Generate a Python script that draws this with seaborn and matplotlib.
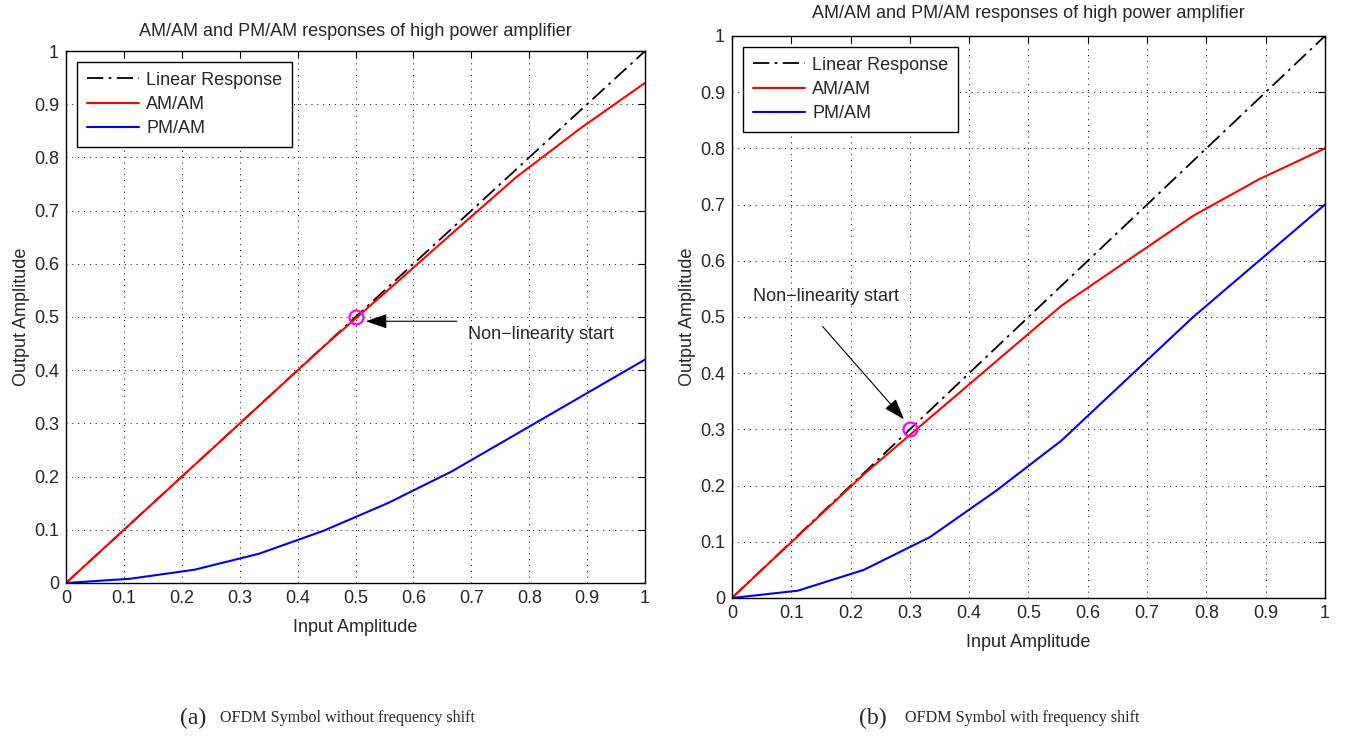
import numpy as np
import pandas as pd
import matplotlib
matplotlib.use("Agg")
import matplotlib.pyplot as plt
import seaborn as sns

# Input amplitude samples
input_amp = [0, 1/9, 2/9, 3/9, 4/9, 5/9, 6/9, 7/9, 8/9, 1.0]

# (a) OFDM symbol without frequency shift
am_am_a = [0, 0.111, 0.222, 0.333, 0.444, 0.550, 0.657, 0.763, 0.855, 0.940]
pm_am_a = [0, 0.008, 0.025, 0.055, 0.098, 0.150, 0.210, 0.280, 0.350, 0.420]

# (b) OFDM symbol with frequency shift
am_am_b = [0, 0.110, 0.220, 0.320, 0.420, 0.520, 0.600, 0.680, 0.745, 0.800]
pm_am_b = [0, 0.013, 0.050, 0.108, 0.190, 0.280, 0.390, 0.500, 0.600, 0.700]

start_a = (0.5, 0.5)
start_b = (0.3, 0.3)

title = "AM/AM and PM/AM responses of high power amplifier"
ticks = [0, 0.1, 0.2, 0.3, 0.4, 0.5, 0.6, 0.7, 0.8, 0.9, 1]
tick_labels = ["0", "0.1", "0.2", "0.3", "0.4", "0.5", "0.6", "0.7", "0.8", "0.9", "1"]

sns.set_style("white")
plt.rcParams["font.family"] = ["Liberation Sans Narrow", "Liberation Sans", "DejaVu Sans"]

fig = plt.figure(figsize=(13.45, 7.36), dpi=100)
ax_a = fig.add_axes([0.0491, 0.2079, 0.4305, 0.7228])
ax_b = fig.add_axes([0.5442, 0.1875, 0.4409, 0.7636])


def draw(ax, am, pm, start, text_xy, tail_xy, tip_xy, title_pad):
    df = pd.DataFrame({"x": input_amp, "lin": input_amp, "am": am, "pm": pm})
    sns.lineplot(data=df, x="x", y="lin", ax=ax, color="black", lw=1.3,
                 linestyle=(0, (9, 3, 1.5, 3)), label="Linear Response")
    sns.lineplot(data=df, x="x", y="am", ax=ax, color="red", lw=1.5, label="AM/AM")
    sns.lineplot(data=df, x="x", y="pm", ax=ax, color="blue", lw=1.5, label="PM/AM")
    ax.plot([start[0]], [start[1]], marker="o", ms=10, mfc="none", mec="magenta",
            mew=1.6)
    ax.annotate("", xy=tip_xy, xytext=tail_xy,
                arrowprops=dict(arrowstyle="-|>,head_length=1.3,head_width=0.45",
                                color="black", lw=0.8, shrinkA=0, shrinkB=0))
    ax.text(text_xy[0], text_xy[1], "Non\u2212linearity start", fontsize=13,
            ha="left", va="center")
    ax.set_xlim(0, 1)
    ax.set_ylim(0, 1)
    ax.set_xticks(ticks)
    ax.set_yticks(ticks)
    ax.set_xticklabels(tick_labels)
    ax.set_yticklabels(tick_labels)
    ax.tick_params(direction="in", top=True, right=True, length=5, width=0.8,
                   labelsize=13, color="black", pad=5)
    ax.grid(True, color="black", linestyle=(0, (1, 5)), lw=0.7)
    for s in ax.spines.values():
        s.set_color("black")
        s.set_linewidth(1.0)
    ax.set_xlabel("Input Amplitude", fontsize=13, labelpad=9)
    ax.set_ylabel("Output Amplitude", fontsize=13, labelpad=3)
    ax.set_title(title, fontsize=13, pad=title_pad)
    leg = ax.legend(loc="upper left", fontsize=13, frameon=True, fancybox=False,
                    edgecolor="black", framealpha=1, borderaxespad=0.6,
                    handlelength=2.9, handletextpad=0.4, labelspacing=0.4,
                    borderpad=0.55)
    leg.get_frame().set_linewidth(1.0)


draw(ax_a, am_am_a, pm_am_a, start_a, (0.695, 0.467), (0.675, 0.492), (0.518, 0.492), 11)
draw(ax_b, am_am_b, pm_am_b, start_b, (0.035, 0.537), (0.153, 0.483), (0.29, 0.318), 13)

serif = ["Liberation Serif", "DejaVu Serif"]
fig.text(0.1335, 0.024, "(a)", fontsize=17, family=serif, ha="left", va="center")
fig.text(0.1635, 0.024, "OFDM Symbol without frequency shift", fontsize=11.6,
         family=serif, ha="left", va="center")
fig.text(0.6390, 0.024, "(b)", fontsize=17, family=serif, ha="left", va="center")
fig.text(0.6725, 0.024, "OFDM Symbol with frequency shift", fontsize=11.6,
         family=serif, ha="left", va="center")

fig.savefig("out.png", dpi=100, facecolor="white")
